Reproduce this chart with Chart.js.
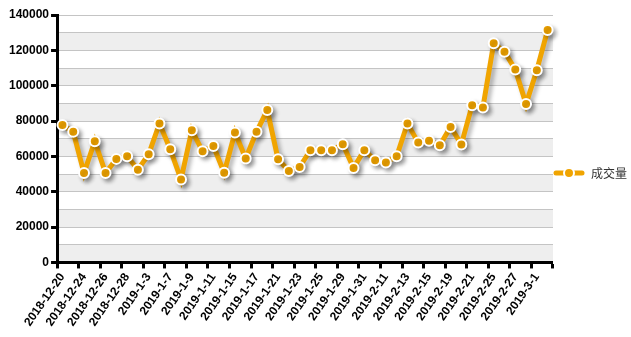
<!DOCTYPE html>
<html>
<head>
<meta charset="utf-8">
<script src="https://cdn.jsdelivr.net/npm/chart.js@4/dist/chart.umd.min.js"></script>
<style>
  html, body { margin: 0; padding: 0; background: #fff; }
  #wrap { width: 631px; height: 337px; }
</style>
</head>
<body>
<div id="wrap"><canvas id="volumeChart" width="631" height="337"></canvas></div>
<script>
// trading days (every other one is labelled on the axis)
const dates = [
    '2018-12-20', '2018-12-21', '2018-12-24', '2018-12-25', '2018-12-26', '2018-12-27',
    '2018-12-28', '2019-1-2', '2019-1-3', '2019-1-4', '2019-1-7', '2019-1-8',
    '2019-1-9', '2019-1-10', '2019-1-11', '2019-1-14', '2019-1-15', '2019-1-16',
    '2019-1-17', '2019-1-18', '2019-1-21', '2019-1-22', '2019-1-23', '2019-1-24',
    '2019-1-25', '2019-1-28', '2019-1-29', '2019-1-30', '2019-1-31', '2019-2-1',
    '2019-2-11', '2019-2-12', '2019-2-13', '2019-2-14', '2019-2-15', '2019-2-18',
    '2019-2-19', '2019-2-20', '2019-2-21', '2019-2-22', '2019-2-25', '2019-2-26',
    '2019-2-27', '2019-2-28', '2019-3-1', '2019-3-4'
];

// 成交量
const volume = [
    77700, 73900, 50600, 68600, 50600, 58600, 60100, 52500, 61200, 78600,
    64000, 46900, 74800, 62900, 65900, 50800, 73500, 58800, 73900, 86200,
    58400, 51800, 54000, 63500, 63500, 63500, 66900, 53500, 63500, 57800,
    56500, 60100, 78600, 67800, 68800, 66300, 76700, 66800, 89000, 87700,
    124000, 119200, 109200, 89600, 108800, 131500
];

const yMin = 0;
const yMax = 140000;
const yStep = 10000;
const seriesName = '成交量';

const orange = '#f0a400';

// alternating background bands behind the grid
const bandPlugin = {
    id: 'bands',
    beforeDraw(chart) {
        const { ctx, chartArea, scales } = chart;
        const y = scales.y;
        ctx.save();
        ctx.fillStyle = '#eeeeee';
        for (let v = yMin; v < yMax; v += yStep) {
            if ((v / yStep) % 2 === 0) {
                const top = y.getPixelForValue(v + yStep);
                const bottom = y.getPixelForValue(v);
                ctx.fillRect(chartArea.left, top, chartArea.right - chartArea.left, bottom - top);
            }
        }
        ctx.restore();
    }
};

// soft drop shadow under the line and markers
const shadowPlugin = {
    id: 'lineShadow',
    beforeDatasetsDraw(chart) {
        const ctx = chart.ctx;
        ctx.save();
        ctx.shadowColor = 'rgba(0, 0, 0, 0.3)';
        ctx.shadowBlur = 4;
        ctx.shadowOffsetX = 3;
        ctx.shadowOffsetY = 3;
    },
    afterDatasetsDraw(chart) {
        chart.ctx.restore();
    }
};

// legend symbol: short line with a marker in the middle
function legendSymbol() {
    const c = document.createElement('canvas');
    c.width = 32;
    c.height = 14;
    const g = c.getContext('2d');
    g.strokeStyle = orange;
    g.lineWidth = 5;
    g.lineCap = 'round';
    g.beginPath();
    g.moveTo(3, 7);
    g.lineTo(29, 7);
    g.stroke();
    g.beginPath();
    g.arc(16, 7, 5, 0, Math.PI * 2);
    g.fillStyle = orange;
    g.fill();
    g.lineWidth = 2;
    g.strokeStyle = '#ffffff';
    g.stroke();
    return c;
}

document.addEventListener('DOMContentLoaded', function() {
    const ctx = document.getElementById('volumeChart').getContext('2d');
    new Chart(ctx, {
        type: 'line',
        data: {
            labels: dates,
            datasets: [{
                label: seriesName,
                data: volume,
                borderColor: orange,
                backgroundColor: orange,
                borderWidth: 5,
                tension: 0,
                pointRadius: 5,
                pointBorderWidth: 2,
                pointBorderColor: '#ffffff',
                pointBackgroundColor: orange
            }]
        },
        options: {
            responsive: false,
            animation: false,
            layout: {
                padding: { top: 15, right: -6, left: 7, bottom: 6 }
            },
            plugins: {
                tooltip: { enabled: false },
                legend: {
                    position: 'right',
                    labels: {
                        usePointStyle: true,
                        pointStyle: legendSymbol(),
                        pointStyleWidth: 32,
                        padding: 0,
                        color: '#333333',
                        font: { family: '"Noto Sans CJK SC", sans-serif', size: 12 }
                    }
                }
            },
            scales: {
                x: {
                    offset: true,
                    grid: {
                        offset: true,
                        drawOnChartArea: false,
                        tickLength: 6,
                        tickWidth: 3,
                        tickColor: function(c) {
                            if (c.index === undefined) return '#000000';
                            return c.index % 2 === 0 ? '#000000' : 'rgba(0,0,0,0)';
                        }
                    },
                    border: { color: '#000000', width: 3 },
                    ticks: {
                        autoSkip: false,
                        minRotation: 55,
                        maxRotation: 55,
                        padding: 2,
                        color: '#000000',
                        font: { family: '"Liberation Sans", Arial, sans-serif', size: 12, weight: 'bold' },
                        callback: function(value, index) {
                            return index % 2 === 0 ? this.getLabelForValue(value) : '';
                        }
                    }
                },
                y: {
                    min: yMin,
                    max: yMax,
                    grid: {
                        color: '#c4c4c4',
                        lineWidth: 1,
                        tickLength: 6,
                        tickWidth: 3,
                        tickColor: function(c) {
                            return c.tick && c.tick.value % 20000 === 0 ? '#000000' : 'rgba(0,0,0,0)';
                        }
                    },
                    border: { color: '#000000', width: 3 },
                    ticks: {
                        stepSize: yStep,
                        padding: 2,
                        color: '#000000',
                        font: { family: '"Liberation Sans", Arial, sans-serif', size: 12, weight: 'bold' },
                        callback: function(value) {
                            return value % 20000 === 0 ? value : '';
                        }
                    }
                }
            }
        },
        plugins: [bandPlugin, shadowPlugin]
    });
});
</script>
</body>
</html>
